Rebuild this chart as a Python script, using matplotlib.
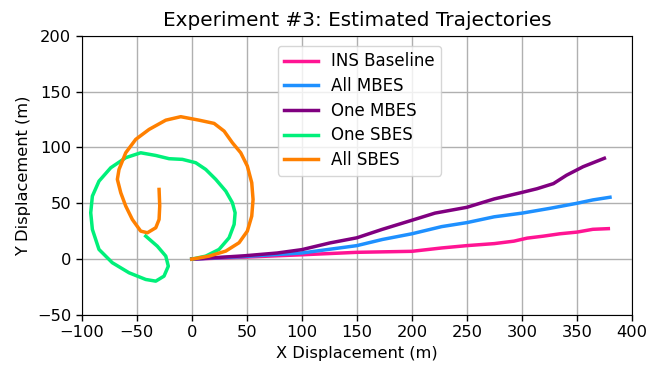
import matplotlib
matplotlib.use("Agg")
import matplotlib.pyplot as plt

# Data (meters)
ins_x = [0, 47.8, 100, 150, 200, 227, 250, 274.8, 292.7, 304.7, 319.6, 334.5, 350, 364.4, 378.5]
ins_y = [0, 1.8, 3.9, 6.1, 7.0, 10.0, 12.1, 13.9, 16.1, 18.8, 20.6, 22.7, 24.2, 26.7, 27.3]

all_mbes_x = [0, 47.8, 100, 150, 173.2, 200, 227, 250, 274.8, 300.2, 325.6, 350, 364.4, 380]
all_mbes_y = [0, 2.4, 5.5, 12.1, 17.6, 22.7, 29.1, 32.7, 37.9, 41.2, 45.5, 50, 53, 55.4]

one_mbes_x = [0, 47.8, 77.7, 100, 125.5, 150, 173.2, 200, 221, 250, 274.8, 298.7, 313.6, 328.6, 340.5, 355.5, 374.9]
one_mbes_y = [0, 3.0, 5.5, 8.5, 14.5, 19.1, 26.7, 34.8, 41.2, 46.4, 53.9, 59.4, 63, 67.6, 75.1, 82.7, 90.3]

one_sbes_x = [0, 12.7, 24.8, 33.9, 38.5, 39.4, 36.9, 30.9, 21.8, 12.7, 3.6, -8.5, -20.6, -32.7,
              -46.4, -60, -73.6, -84.3, -90.3, -91.8, -90.3, -84.3, -72.2, -57, -41.8, -32.7,
              -25.2, -21.3, -23.6, -31.3, -41.8]
one_sbes_y = [0, 2.7, 8.7, 19.1, 31.1, 41.5, 50.5, 60.9, 71.4, 80.3, 86.3, 89.3, 89.9, 92.8,
              95.2, 90.8, 81.8, 69.8, 56.4, 41.5, 26.6, 8.7, -3.2, -12.2, -18.2, -19.7,
              -15.2, -6.3, 2.7, 11.6, 20.6]

all_sbes_x = [0, 15.7, 30.9, 43, 50.5, 54.5, 55.7, 54.5, 50.5, 44.5, 36.9, 29.4, 20.3, 6.6,
              -10, -23.6, -38.8, -50.9, -60, -66.1, -67.6, -64.5, -60, -54, -46.4, -40.3,
              -32.7, -29.7, -29.1, -29.7]
all_sbes_y = [0, 2.7, 7.2, 14.7, 25.1, 38.5, 53.4, 68.4, 83.3, 95.2, 104.2, 114.6, 121.5, 124.4,
              127.5, 124.4, 116.1, 107.2, 95.2, 80.3, 71.4, 59.4, 47.5, 35.5, 25.1, 23.6,
              28.1, 35.5, 47.5, 62.4]

x_ticks = [-100, -50, 0, 50, 100, 150, 200, 250, 300, 350, 400]
y_ticks = [-50, 0, 50, 100, 150, 200]

fs = 11.7
fig = plt.figure(figsize=(6.55, 3.68), dpi=100)
ax = fig.add_axes([81.7 / 655, 1 - 315 / 368, (632 - 81.7) / 655, (315 - 35.7) / 368])

lw = 2.5
ax.plot(ins_x, ins_y, color="#ff1493", lw=lw, label="INS Baseline", solid_joinstyle="round")
ax.plot(all_mbes_x, all_mbes_y, color="#1e90ff", lw=lw, label="All MBES", solid_joinstyle="round")
ax.plot(one_mbes_x, one_mbes_y, color="#800080", lw=lw, label="One MBES", solid_joinstyle="round")
ax.plot(one_sbes_x, one_sbes_y, color="#00f07a", lw=lw, label="One SBES", solid_joinstyle="round")
ax.plot(all_sbes_x, all_sbes_y, color="#ff8000", lw=lw, label="All SBES", solid_joinstyle="round")

ax.set_xlim(-100, 400)
ax.set_ylim(-50, 200)
ax.set_xticks(x_ticks)
ax.set_yticks(y_ticks)
ax.tick_params(labelsize=fs, length=4, width=1)
ax.grid(True, color="#b0b0b0", lw=1)
ax.set_axisbelow(True)
ax.set_xlabel("X Displacement (m)", fontsize=fs)
ax.set_ylabel("Y Displacement (m)", fontsize=fs)
ax.set_title("Experiment #3: Estimated Trajectories", fontsize=14.4, pad=7)
ax.legend(loc="upper center", fontsize=12, handlelength=2.0, borderaxespad=0.6,
          labelspacing=0.4, bbox_to_anchor=(0.505, 1.0))

fig.savefig("out.png", dpi=100)
